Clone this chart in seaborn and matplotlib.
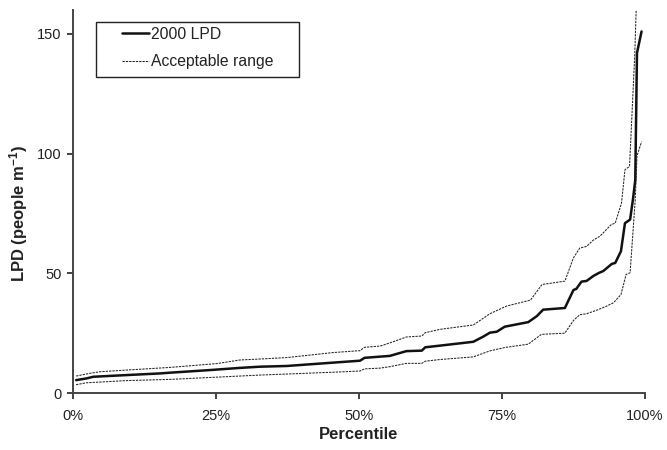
import matplotlib
matplotlib.use("Agg")
import matplotlib.pyplot as plt
import seaborn as sns
import pandas as pd
from matplotlib.patches import Rectangle
from matplotlib.ticker import FuncFormatter

# ---- data ----
main_pct = [0.6, 2.4, 3.6, 9.4, 15.3, 17, 24, 29.2, 32.7, 37.4, 45.5, 50.2, 51, 53.7,
            55.4, 58.3, 61, 61.6, 64.2, 70, 71.7, 72.9, 74.1, 75.5, 79.6, 81.1, 82.2,
            86, 87.5, 88, 88.9, 89.8, 91, 92, 92.7, 94.2, 94.8, 95.8, 96.5, 97.4, 97.9,
            98.3, 98.6, 99.4]
main_val = [5.5, 6.2, 6.9, 7.6, 8.3, 8.6, 9.7, 10.6, 11.1, 11.4, 12.8, 13.6, 14.8, 15.3,
            15.6, 17.6, 17.8, 19.2, 19.9, 21.5, 23.6, 25.3, 25.7, 27.8, 29.7, 32.2, 34.9,
            35.6, 43.1, 43.6, 46.6, 46.9, 49, 50.3, 51, 54, 54.4, 59.3, 71, 72.5, 81,
            89, 142, 151]

upper_pct = [0.6, 2.9, 4.8, 9.4, 17, 25.2, 29.2, 32.7, 37.4, 45.5, 50.2, 51, 53.7,
             55.4, 58.3, 61, 61.6, 64.2, 70, 72.9, 75.8, 80, 82, 86, 87.5, 88.6, 89.8,
             91, 92.1, 94.1, 94.8, 95.9, 96.5, 97.3, 98.2, 98.5]
upper_val = [7.2, 8.3, 9, 9.7, 10.8, 12.4, 13.9, 14.3, 14.9, 17, 17.8, 19.2, 19.7,
             21, 23.5, 23.9, 25.3, 26.7, 28.5, 33.2, 36.4, 38.9, 45.4, 46.8, 56.5, 60.6, 61.3,
             64, 65.5, 70.4, 71, 79.4, 93.3, 94.7, 140.5, 163]

lower_pct = [0.6, 2.4, 4.8, 9.4, 17, 29.2, 32.7, 45.5, 50.2, 51, 53.7, 55.4, 58.3, 61,
             61.6, 64.2, 70, 72.9, 75.5, 79.6, 81.9, 86, 87.5, 88.6, 89.8, 91.6, 93.3,
             94.5, 95.8, 96.7, 97.4, 98.3, 98.6, 99.4]
lower_val = [3.6, 4.4, 4.7, 5.3, 5.8, 7.2, 7.6, 8.8, 9.3, 10.2, 10.5, 11.1, 12.5, 12.5,
             13.4, 14.1, 15.2, 17.7, 19.1, 20.5, 24.6, 25.1, 30.4, 32.8, 33.2, 34.7, 36.4,
             37.8, 41.2, 49.6, 50.3, 81, 99, 105]

series_labels = ["2000 LPD", "Acceptable range"]
x_ticks = [0, 25, 50, 75, 100]
y_ticks = [0, 50, 100, 150]

# ---- style ----
sns.set_theme(style="ticks")
plt.rcParams["font.family"] = ["Liberation Sans", "DejaVu Sans"]
plt.rcParams["mathtext.default"] = "regular"

fig = plt.figure(figsize=(6.67, 4.5), dpi=100)
ax = fig.add_axes([0.109, 0.126, 0.858, 0.852])

main_df = pd.DataFrame({"pct": main_pct, "val": main_val})
up_df = pd.DataFrame({"pct": upper_pct, "val": upper_val})
lo_df = pd.DataFrame({"pct": lower_pct, "val": lower_val})

dash = (0, (2.2, 1.0))
sns.lineplot(data=main_df, x="pct", y="val", ax=ax, color="#111111", linewidth=1.8,
             sort=False, estimator=None, label=series_labels[0])
sns.lineplot(data=up_df, x="pct", y="val", ax=ax, color="#222222", linewidth=0.75,
             linestyle=dash, sort=False, estimator=None, label=series_labels[1])
sns.lineplot(data=lo_df, x="pct", y="val", ax=ax, color="#222222", linewidth=0.75,
             linestyle=dash, sort=False, estimator=None, label="_nolegend_")

ax.set_xlim(0, 100)
ax.set_ylim(0, 160)
ax.set_xticks(x_ticks)
ax.set_yticks(y_ticks)
ax.xaxis.set_major_formatter(FuncFormatter(lambda v, p: f"{v:.0f}%"))
ax.tick_params(axis="both", labelsize=10.5, colors="#222222", length=4, width=1.2,
               direction="out")
ax.tick_params(axis="x", pad=7)
ax.tick_params(axis="y", pad=4)
for s in ["top", "right"]:
    ax.spines[s].set_visible(False)
for s in ["left", "bottom"]:
    ax.spines[s].set_color("#444444")
    ax.spines[s].set_linewidth(1.4)

ax.set_xlabel("Percentile", fontsize=12, fontweight="bold", color="#222222", labelpad=3)
ax.set_ylabel("LPD (people m$^{-1}$)", fontsize=12, fontweight="bold", color="#222222")
ax.yaxis.set_label_coords(-0.074, 0.47)

leg = ax.legend(loc="upper left", bbox_to_anchor=(0.0856, 0.956), frameon=False,
                fontsize=11.3, handlelength=1.75, handletextpad=0.1, borderpad=0,
                labelspacing=0.8, borderaxespad=0)
for t in leg.get_texts():
    t.set_color("#222222")
ax.add_patch(Rectangle((0.040, 0.826), 0.355, 0.1435, transform=ax.transAxes,
                       fill=False, edgecolor="#222222", linewidth=1.0, zorder=5,
                       clip_on=False))

fig.savefig("out.png", dpi=100)
